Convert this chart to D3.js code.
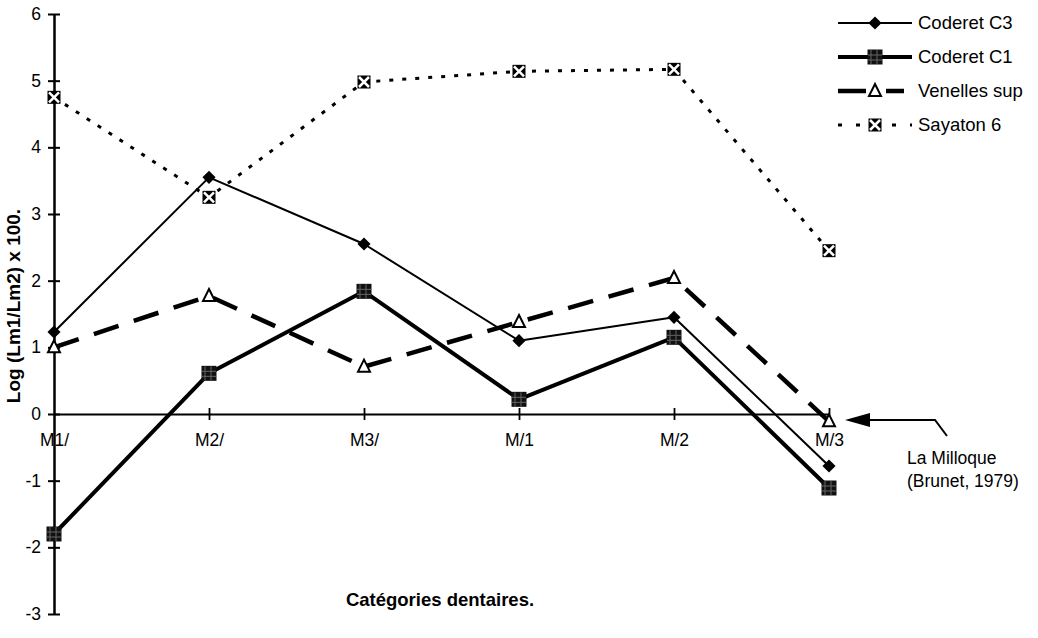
<!DOCTYPE html>
<html>
<head>
<meta charset="utf-8">
<script src="https://cdn.jsdelivr.net/npm/d3@7"></script>
<style>
  body { margin: 0; background: #fff; }
  svg { font-family: "Liberation Sans", Arial, sans-serif; }
</style>
</head>
<body>
<svg id="chart" width="1038" height="638"></svg>
<script>
const categories = ["M1/", "M2/", "M3/", "M/1", "M/2", "M/3"];
const yTicks = [-3, -2, -1, 0, 1, 2, 3, 4, 5, 6];

const coderetC3 = [1.23, 3.55, 2.55, 1.1, 1.45, -0.78];
const coderetC1 = [-1.8, 0.61, 1.84, 0.22, 1.15, -1.11];
const venellesSup = [1.0, 1.77, 0.71, 1.38, 2.04, -0.11];
const sayaton6 = [4.75, 3.25, 4.98, 5.14, 5.17, 2.45];

const seriesNames = ["Coderet C3", "Coderet C1", "Venelles sup", "Sayaton 6"];

const svg = d3.select("#chart");

const x = d3.scalePoint().domain(categories).range([54, 829]);
const y = d3.scaleLinear().domain([-3, 6]).range([614, 14]);

// y axis, ticks cross the line
const yAxis = svg.append("g")
  .attr("transform", `translate(${x("M1/")},0)`)
  .call(d3.axisLeft(y).tickValues(yTicks).tickSize(6).tickSizeOuter(0).tickFormat(d => String(d)));
yAxis.select(".domain").attr("stroke", "#000").attr("stroke-width", 2.5);
yAxis.selectAll(".tick line").attr("x1", 6).attr("stroke-width", 2);
yAxis.selectAll(".tick text")
  .attr("x", -13)
  .attr("font-size", 17.5)
  .attr("font-family", "Liberation Sans, Arial, sans-serif")
  .attr("fill", "#000");

// x axis at zero
const xAxis = svg.append("g")
  .attr("transform", `translate(0,${y(0)})`)
  .call(d3.axisBottom(x).tickSize(6).tickSizeOuter(0));
xAxis.select(".domain").attr("stroke", "#000").attr("stroke-width", 2);
xAxis.selectAll(".tick line").attr("y1", -6).attr("stroke-width", 1.8);
xAxis.selectAll(".tick text")
  .attr("y", 20)
  .attr("dy", "0.71em")
  .attr("font-size", 17.5)
  .attr("font-family", "Liberation Sans, Arial, sans-serif")
  .attr("fill", "#000");
xAxis.selectAll(".tick").filter(d => d === "M1/").select("line").remove();

// axis titles
svg.append("text")
  .attr("transform", "translate(20,306) rotate(-90)")
  .attr("text-anchor", "middle")
  .attr("font-weight", "bold")
  .attr("font-size", 19)
  .text("Log (Lm1/Lm2) x 100.");

svg.append("text")
  .attr("x", 440)
  .attr("y", 606)
  .attr("text-anchor", "middle")
  .attr("font-weight", "bold")
  .attr("font-size", 18.5)
  .text("Catégories dentaires.");

// styles per series
const styles = [
  { values: coderetC3, width: 2, dash: null, marker: "diamond" },
  { values: coderetC1, width: 4, dash: null, marker: "square" },
  { values: venellesSup, width: 4.5, dash: "26,16", marker: "triangle" },
  { values: sayaton6, width: 3, dash: "4,9", marker: "xsquare" }
];

function drawMarker(g, type, cx, cy) {
  if (type === "diamond") {
    g.append("path")
      .attr("d", d3.symbol().type(d3.symbolDiamond2).size(110)())
      .attr("transform", `translate(${cx},${cy})`)
      .attr("fill", "#000");
  } else if (type === "square") {
    g.append("rect").attr("x", cx - 7.5).attr("y", cy - 7.5)
      .attr("width", 15).attr("height", 15).attr("fill", "#111");
    g.append("path")
      .attr("d", `M${cx - 4},${cy - 7}V${cy + 7}M${cx + 2},${cy - 7}V${cy + 7}M${cx - 7},${cy - 2}H${cx + 7}M${cx - 7},${cy + 3}H${cx + 7}`)
      .attr("stroke", "#666").attr("stroke-width", 1);
  } else if (type === "triangle") {
    g.append("path")
      .attr("d", `M${cx},${cy - 7}L${cx + 6},${cy + 5}L${cx - 6},${cy + 5}Z`)
      .attr("fill", "#fff").attr("stroke", "#000").attr("stroke-width", 2);
  } else if (type === "xsquare") {
    g.append("rect").attr("x", cx - 6.5).attr("y", cy - 6.5)
      .attr("width", 13).attr("height", 13).attr("fill", "#000");
    g.append("path")
      .attr("d", `M${cx - 5},${cy - 5}L${cx + 5},${cy + 5}M${cx + 5},${cy - 5}L${cx - 5},${cy + 5}`)
      .attr("stroke", "#fff").attr("stroke-width", 2.5);
  }
}

const line = d3.line()
  .x((d, i) => x(categories[i]))
  .y(d => y(d));

styles.forEach(s => {
  svg.append("path")
    .datum(s.values)
    .attr("d", line)
    .attr("fill", "none")
    .attr("stroke", "#000")
    .attr("stroke-width", s.width)
    .attr("stroke-dasharray", s.dash)
    .attr("stroke-linejoin", "round");
});
styles.forEach(s => {
  const g = svg.append("g");
  s.values.forEach((v, i) => drawMarker(g, s.marker, x(categories[i]), y(v)));
});

// legend
const legend = svg.append("g");
seriesNames.forEach((name, i) => {
  const ly = 23 + i * 34;
  const s = styles[i];
  legend.append("line")
    .attr("x1", 838).attr("x2", 912)
    .attr("y1", ly).attr("y2", ly)
    .attr("stroke", "#000")
    .attr("stroke-width", s.width)
    .attr("stroke-dasharray", s.dash ? (s.marker === "triangle" ? "28,10" : "4,14") : null);
  if (s.marker === "triangle") {
    legend.append("rect").attr("x", 866).attr("y", ly - 4).attr("width", 20).attr("height", 8).attr("fill", "#fff");
  }
  drawMarker(legend, s.marker, 875, ly);
  legend.append("text")
    .attr("x", 918).attr("y", ly)
    .attr("dy", "0.35em")
    .attr("font-size", 18.5)
    .text(name);
});

// annotation arrow for La Milloque
const ax = x("M/3");
const ay = y(0) + 6;
svg.append("path")
  .attr("d", `M${ax + 16},${ay}L${ax + 41},${ay - 7}L${ax + 41},${ay + 7}Z`)
  .attr("fill", "#000");
svg.append("path")
  .attr("d", `M${ax + 41},${ay}H${ax + 106}L${ax + 118},${ay + 16}`)
  .attr("fill", "none").attr("stroke", "#000").attr("stroke-width", 2);
svg.append("text")
  .attr("x", ax + 78).attr("y", ay + 44)
  .attr("font-size", 17.5)
  .text("La Milloque");
svg.append("text")
  .attr("x", ax + 78).attr("y", ay + 67)
  .attr("font-size", 17.5)
  .text("(Brunet, 1979)");
</script>
</body>
</html>
